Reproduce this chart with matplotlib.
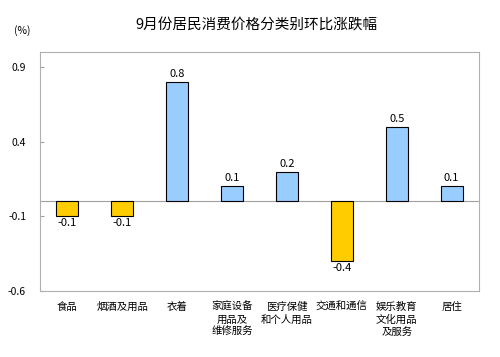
import matplotlib
matplotlib.use("Agg")
import matplotlib.pyplot as plt

plt.rcParams['font.family'] = ['Noto Sans CJK SC', 'DejaVu Sans']

categories = ['食品', '烟酒及用品', '衣着', '家庭设备\n用品及\n维修服务', '医疗保健\n和个人用品',
              '交通和通信', '娱乐教育\n文化用品\n及服务', '居住']
values = [-0.1, -0.1, 0.8, 0.1, 0.2, -0.4, 0.5, 0.1]
yticks = [0.9, 0.4, -0.1, -0.6]

fig = plt.figure(figsize=(5, 3.57), dpi=100)
ax = fig.add_axes([0.08, 0.185, 0.878, 0.669])

x = list(range(len(values)))
colors = ['#99CCFF' if v >= 0 else '#FFCC00' for v in values]
ax.bar(x, values, width=0.4, color=colors, edgecolor='black', linewidth=0.8, zorder=3)
ax.axhline(0, color='#a0a0a0', linewidth=0.8, zorder=2)

for i, v in enumerate(values):
    if v >= 0:
        ax.text(i, v + 0.02, f'{v:.1f}', ha='center', va='bottom', fontsize=8)
    else:
        ax.text(i, v - 0.01, f'{v:.1f}', ha='center', va='top', fontsize=8)

ax.set_xlim(-0.5, len(values) - 0.5)
ax.set_ylim(-0.6, 1.0)
ax.set_yticks(yticks)
ax.set_yticklabels([f'{t:.1f}' for t in yticks], fontsize=7.5)
ax.set_xticks(x)
ax.set_xticklabels(categories, fontsize=7.5, linespacing=1.3, va='top')
ax.tick_params(axis='x', length=0, pad=8)
ax.tick_params(axis='y', length=3, direction='in', color='#a0a0a0', pad=10)
for s in ax.spines.values():
    s.set_color('#b0b0b0')
    s.set_linewidth(0.8)

fig.text(0.512, 0.93, '9月份居民消费价格分类别环比涨跌幅', ha='center', va='center', fontsize=10.5)
fig.text(0.044, 0.915, '(%)', ha='center', va='center', fontsize=7.5)

fig.savefig('out.png', dpi=100)
